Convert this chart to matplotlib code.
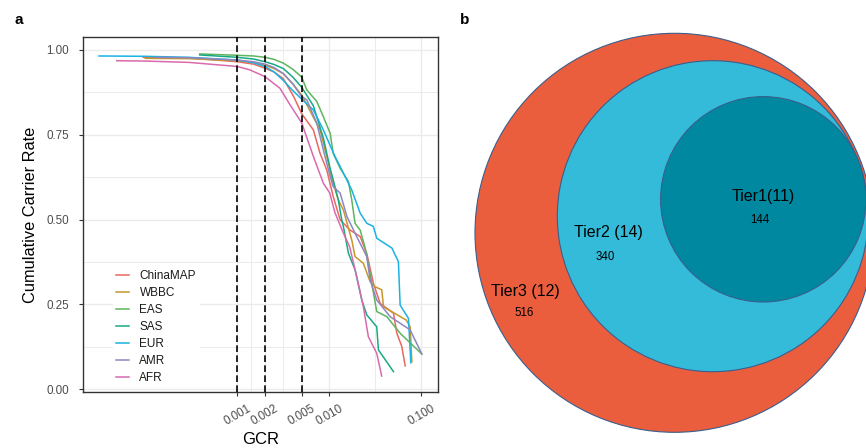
import numpy as np
import matplotlib
matplotlib.use("Agg")
import matplotlib.pyplot as plt
from matplotlib.ticker import FixedLocator, NullFormatter
from matplotlib.patches import Circle

plt.rcParams['font.family'] = ['Liberation Sans', 'DejaVu Sans']

# ---------------- data: panel a ----------------
populations = ['ChinaMAP', 'WBBC', 'EAS', 'SAS', 'EUR', 'AMR', 'AFR']
pop_colors = ['#E9685F', '#C5972C', '#5DB55D', '#19A884', '#19B2E2', '#8E86C2', '#D96AAE']

gcr_chinamap = [9.5e-5, 3e-4, 0.001, 0.0015, 0.002, 0.0025, 0.00316, 0.0041, 0.005, 0.0067, 0.00792,
                0.00937, 0.0110, 0.0131, 0.0168, 0.0216, 0.0255, 0.0301, 0.0356, 0.0497, 0.0541,
                0.0612, 0.0666]
rate_chinamap = [0.978, 0.976, 0.965, 0.958, 0.946, 0.935, 0.915, 0.862, 0.812, 0.764, 0.695,
                 0.646, 0.568, 0.499, 0.469, 0.450, 0.400, 0.312, 0.253, 0.224, 0.165,
                 0.126, 0.069]

gcr_wbbc = [1.0e-4, 3e-4, 0.001, 0.0015, 0.002, 0.0025, 0.00316, 0.004, 0.005, 0.00792, 0.00937,
            0.0110, 0.0125, 0.0142, 0.0175, 0.0190, 0.0234, 0.0277, 0.0314, 0.0371, 0.0387,
            0.0683, 0.0754, 0.0787]
rate_wbbc = [0.975, 0.974, 0.968, 0.963, 0.955, 0.945, 0.930, 0.900, 0.867, 0.764, 0.686,
             0.607, 0.558, 0.528, 0.440, 0.391, 0.371, 0.317, 0.302, 0.293, 0.243,
             0.204, 0.184, 0.081]

gcr_eas = [3.9e-4, 0.001, 0.0015, 0.002, 0.0025, 0.00316, 0.004, 0.005, 0.00568, 0.0073, 0.0086,
           0.0102, 0.0110, 0.0131, 0.0161, 0.0175, 0.0190, 0.0216, 0.0245, 0.0277, 0.0327,
           0.0421, 0.0587, 0.101]
rate_eas = [0.988, 0.984, 0.982, 0.978, 0.972, 0.961, 0.943, 0.920, 0.882, 0.848, 0.803,
            0.754, 0.695, 0.651, 0.612, 0.558, 0.489, 0.469, 0.416, 0.340, 0.229,
            0.214, 0.165, 0.104]

gcr_sas = [3.9e-4, 0.001, 0.0015, 0.002, 0.0025, 0.00316, 0.004, 0.005, 0.0067, 0.0086, 0.0102,
           0.0110, 0.0125, 0.0136, 0.0142, 0.0161, 0.0190, 0.0225, 0.0255, 0.0327, 0.0341, 0.0497]
rate_sas = [0.985, 0.978, 0.973, 0.965, 0.957, 0.945, 0.920, 0.890, 0.835, 0.740, 0.650,
            0.617, 0.558, 0.500, 0.479, 0.401, 0.352, 0.263, 0.219, 0.184, 0.116, 0.052]

gcr_eur = [3.14e-5, 1e-4, 3e-4, 0.001, 0.0015, 0.002, 0.0025, 0.00316, 0.004, 0.005, 0.0067,
           0.0086, 0.0115, 0.0142, 0.0175, 0.0216, 0.0255, 0.0300, 0.0327, 0.0478, 0.0562,
           0.0587, 0.0723, 0.0767]
rate_eur = [0.982, 0.981, 0.978, 0.970, 0.962, 0.951, 0.935, 0.910, 0.880, 0.855, 0.823,
            0.764, 0.686, 0.637, 0.587, 0.519, 0.489, 0.480, 0.445, 0.416, 0.376,
            0.248, 0.209, 0.078]

gcr_amr = [1.33e-4, 3e-4, 0.001, 0.0015, 0.002, 0.0025, 0.00316, 0.004, 0.005, 0.00568, 0.0073,
           0.0086, 0.0102, 0.0110, 0.0131, 0.0155, 0.0198, 0.0255, 0.0277, 0.0327, 0.0457,
           0.0754, 0.101]
rate_amr = [0.978, 0.977, 0.970, 0.965, 0.958, 0.948, 0.930, 0.900, 0.862, 0.853, 0.784,
            0.705, 0.627, 0.597, 0.578, 0.509, 0.450, 0.391, 0.322, 0.263, 0.214,
            0.175, 0.104]

gcr_afr = [4.9e-5, 1e-4, 3e-4, 0.001, 0.00137, 0.002, 0.0029, 0.00374, 0.005, 0.0067, 0.0086,
           0.0101, 0.0115, 0.0142, 0.0166, 0.0199, 0.0234, 0.0265, 0.0327, 0.0370]
rate_afr = [0.968, 0.967, 0.963, 0.951, 0.941, 0.921, 0.887, 0.838, 0.785, 0.686, 0.607,
            0.578, 0.520, 0.460, 0.420, 0.330, 0.243, 0.155, 0.106, 0.039]

series_gcr = [gcr_chinamap, gcr_wbbc, gcr_eas, gcr_sas, gcr_eur, gcr_amr, gcr_afr]
series_rate = [rate_chinamap, rate_wbbc, rate_eas, rate_sas, rate_eur, rate_amr, rate_afr]

cutoffs = [0.001, 0.002, 0.005]
x_major = [0.001, 0.002, 0.005, 0.010, 0.100]
x_major_labels = ['0.001', '0.002', '0.005', '0.010', '0.100']
y_major = [0.00, 0.25, 0.50, 0.75, 1.00]
y_major_labels = ['0.00', '0.25', '0.50', '0.75', '1.00']

# ---------------- data: panel b ----------------
tier_labels = ['Tier3 (12)', 'Tier2 (14)', 'Tier1(11)']
tier_counts = [516, 340, 144]
tier_colors = ['#EB5E3D', '#33BBD9', '#0088A1']

# ---------------- figure ----------------
W, H = 866, 448
fig = plt.figure(figsize=(W / 100, H / 100), dpi=100)

# panel a axes (pixel box 82.7..438 x 37.3..392)
ax = fig.add_axes([82.7 / W, (H - 392) / H, (438 - 82.7) / W, (392 - 37.3) / H])
ax.set_xscale('log')
ax.set_xlim(10 ** -4.68, 10 ** -0.82)
ax.set_ylim(-0.008, 1.037)

ax.xaxis.set_major_locator(FixedLocator(x_major))
ax.set_xticklabels(x_major_labels)
ax.xaxis.set_minor_locator(FixedLocator([10 ** -2.85, 10 ** -2.5, 10 ** -1.5]))
ax.xaxis.set_minor_formatter(NullFormatter())
ax.set_yticks(y_major)
ax.set_yticklabels(y_major_labels)
ax.yaxis.set_minor_locator(FixedLocator([0.125, 0.375, 0.625, 0.875]))

ax.grid(True, which='major', color='#EBEBEB', lw=1.0)
ax.grid(True, which='minor', color='#EBEBEB', lw=0.7)
ax.set_axisbelow(True)
ax.tick_params(which='minor', length=0)
ax.tick_params(which='major', length=3, width=0.8, color='#333333',
               labelsize=8.4, labelcolor='#4D4D4D')
ax.tick_params(axis='y', which='major', pad=7)
ax.tick_params(axis='x', which='major', pad=4.5)
for lab in ax.get_xticklabels():
    lab.set_rotation(30)
    lab.set_ha('center')
for sp in ax.spines.values():
    sp.set_color('#333333')
    sp.set_linewidth(1.0)

for name, col, gx, ry in zip(populations, pop_colors, series_gcr, series_rate):
    ax.plot(gx, ry, color=col, lw=1.1, label=name, zorder=3)

for c in cutoffs:
    ax.axvline(c, color='black', lw=1.2, ls=(0, (4, 2)), zorder=4)

leg = ax.legend(loc='upper left', bbox_to_anchor=(0.085, 0.354), fontsize=8.5,
                frameon=True, fancybox=False, edgecolor='none', facecolor='white',
                framealpha=1, handlelength=1.05, handletextpad=0.9, labelspacing=0.42,
                borderpad=0.3, borderaxespad=0)
for t in leg.get_texts():
    t.set_color('#1A1A1A')

ax.set_xlabel('GCR', fontsize=12, labelpad=3)
ax.set_ylabel('Cumulative Carrier Rate', fontsize=11.8, labelpad=6)

fig.text(14 / W, 1 - 20 / H, 'a', fontsize=11, fontweight='bold', va='center', ha='left')
fig.text(460 / W, 1 - 20 / H, 'b', fontsize=11, fontweight='bold', va='center', ha='left')

# panel b axes, data units == pixels
ax2 = fig.add_axes([450 / W, 0, (W - 450) / W, 1])
ax2.set_xlim(450, W)
ax2.set_ylim(H, 0)
ax2.axis('off')

circle_centers = [(674.5, 232.8), (712.8, 216.2), (763.3, 199.3)]
circle_radii = [199.5, 155.5, 102.7]
label_pos = [(525, 291.5), (608, 232), (763, 196.5)]
count_pos = [(524, 312.7), (605, 256.7), (760, 220)]

for (cx, cy), r, col in zip(circle_centers, circle_radii, tier_colors):
    ax2.add_patch(Circle((cx, cy), r, facecolor=col, edgecolor='#3A5E8C', lw=0.8))
for lab, n, lp, cp in zip(tier_labels, tier_counts, label_pos, count_pos):
    ax2.text(lp[0], lp[1], lab, fontsize=11.5, ha='center', va='center', color='black')
    ax2.text(cp[0], cp[1], str(n), fontsize=8.3, ha='center', va='center', color='black')

fig.savefig('out.png', dpi=100)
